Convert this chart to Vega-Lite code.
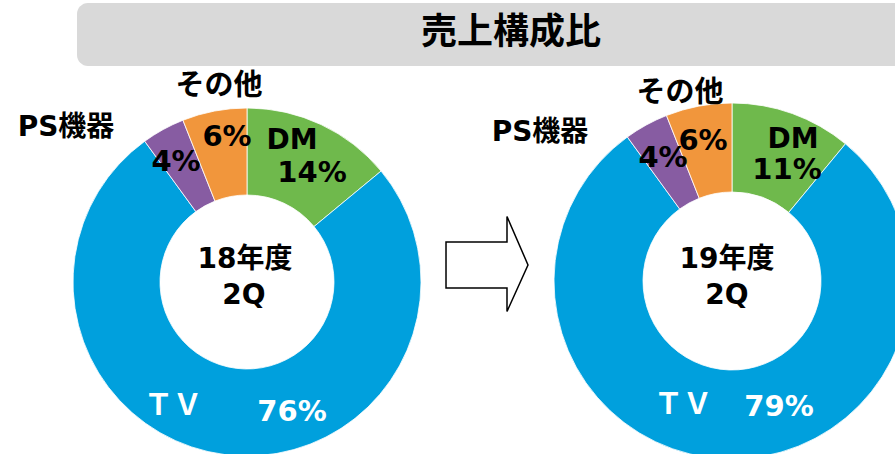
{
  "$schema": "https://vega.github.io/schema/vega-lite/v6.json",
  "width": 895,
  "height": 454,
  "padding": 0,
  "autosize": "none",
  "background": "#ffffff",
  "config": {"view": {"stroke": null}},
  "datasets": {
    "seg": [
      {"period": "18年度", "cat": "DM", "value": 14, "order": 1},
      {"period": "18年度", "cat": "TV", "value": 76, "order": 2},
      {"period": "18年度", "cat": "PS機器", "value": 4, "order": 3},
      {"period": "18年度", "cat": "その他", "value": 6, "order": 4},
      {"period": "19年度", "cat": "DM", "value": 11, "order": 1},
      {"period": "19年度", "cat": "TV", "value": 79, "order": 2},
      {"period": "19年度", "cat": "PS機器", "value": 4, "order": 3},
      {"period": "19年度", "cat": "その他", "value": 6, "order": 4}
    ]
  },
  "layer": [
    {
      "data": {"values": [{"item": "banner"}]},
      "mark": {"type": "rect", "fill": "#d9d9d9", "cornerRadius": 11},
      "encoding": {
        "x": {"datum": 77, "type": "quantitative", "scale": {"domain": [0, 895], "nice": false, "zero": false}, "axis": null},
        "x2": {"datum": 930},
        "y": {"datum": 3, "type": "quantitative", "scale": {"domain": [0, 454], "nice": false, "zero": false, "reverse": true}, "axis": null},
        "y2": {"datum": 66}
      }
    },
    {
      "data": {"values": [{"label": "売上構成比"}]},
      "mark": {"type": "text", "font": "Noto Sans CJK JP", "fontWeight": "bold", "fontSize": 36, "color": "#000000", "align": "center", "baseline": "middle"},
      "encoding": {
        "x": {"datum": 511, "type": "quantitative", "scale": {"domain": [0, 895], "nice": false, "zero": false}},
        "y": {"datum": 33, "type": "quantitative", "scale": {"domain": [0, 454], "nice": false, "zero": false, "reverse": true}},
        "text": {"field": "label"}
      }
    },
    {
      "data": {"name": "seg"},
      "transform": [{"filter": "datum.period === '18年度'"}],
      "mark": {"type": "arc", "radius": 174, "innerRadius": 87, "stroke": "#ffffff", "strokeWidth": 0.8},
      "encoding": {
        "x": {"datum": 247, "type": "quantitative", "scale": {"domain": [0, 895], "nice": false, "zero": false}},
        "y": {"datum": 282, "type": "quantitative", "scale": {"domain": [0, 454], "nice": false, "zero": false, "reverse": true}},
        "theta": {"field": "value", "type": "quantitative", "stack": true, "scale": {"domain": [0, 100]}},
        "order": {"field": "order", "type": "quantitative"},
        "color": {"field": "cat", "type": "nominal", "legend": null, "scale": {"domain": ["DM", "TV", "PS機器", "その他"], "range": ["#6fb94c", "#00a0dd", "#875ca2", "#f1963c"]}}
      }
    },
    {
      "data": {"name": "seg"},
      "transform": [{"filter": "datum.period === '19年度'"}],
      "mark": {"type": "arc", "radius": 178, "innerRadius": 89, "stroke": "#ffffff", "strokeWidth": 0.8},
      "encoding": {
        "x": {"datum": 732, "type": "quantitative", "scale": {"domain": [0, 895], "nice": false, "zero": false}},
        "y": {"datum": 281, "type": "quantitative", "scale": {"domain": [0, 454], "nice": false, "zero": false, "reverse": true}},
        "theta": {"field": "value", "type": "quantitative", "stack": true, "scale": {"domain": [0, 100]}},
        "order": {"field": "order", "type": "quantitative"},
        "color": {"field": "cat", "type": "nominal", "legend": null, "scale": {"domain": ["DM", "TV", "PS機器", "その他"], "range": ["#6fb94c", "#00a0dd", "#875ca2", "#f1963c"]}}
      }
    },
    {
      "data": {"values": [{"item": "arrow"}]},
      "mark": {"type": "point", "shape": "M-0.863,-0.463 L0.421,-0.463 L0.421,-1 L0.863,0.02 L0.421,1 L0.421,0.505 L-0.863,0.505 Z", "size": 9025, "filled": true, "fill": "#ffffff", "stroke": "#000000", "strokeWidth": 1.5, "opacity": 1},
      "encoding": {
        "x": {"datum": 487, "type": "quantitative", "scale": {"domain": [0, 895], "nice": false, "zero": false}},
        "y": {"datum": 264, "type": "quantitative", "scale": {"domain": [0, 454], "nice": false, "zero": false, "reverse": true}}
      }
    },
    {
      "data": {"values": [{"label": "その他"}]},
      "mark": {"type": "text", "font": "Noto Sans CJK JP", "fontWeight": "bold", "fontSize": 29, "color": "#000000", "align": "center", "baseline": "middle"},
      "encoding": {
        "x": {"datum": 219, "type": "quantitative", "scale": {"domain": [0, 895], "nice": false, "zero": false}},
        "y": {"datum": 86, "type": "quantitative", "scale": {"domain": [0, 454], "nice": false, "zero": false, "reverse": true}},
        "text": {"field": "label"}
      }
    },
    {
      "data": {"values": [{"label": "PS機器"}]},
      "mark": {"type": "text", "font": "DejaVu Sans, Noto Sans CJK JP", "fontWeight": "bold", "fontSize": 28, "color": "#000000", "align": "center", "baseline": "middle"},
      "encoding": {
        "x": {"datum": 66, "type": "quantitative", "scale": {"domain": [0, 895], "nice": false, "zero": false}},
        "y": {"datum": 128, "type": "quantitative", "scale": {"domain": [0, 454], "nice": false, "zero": false, "reverse": true}},
        "text": {"field": "label"}
      }
    },
    {
      "data": {"values": [{"label": "6%"}]},
      "mark": {"type": "text", "font": "DejaVu Sans", "fontWeight": "bold", "fontSize": 29, "color": "#000000", "align": "center", "baseline": "middle"},
      "encoding": {
        "x": {"datum": 227, "type": "quantitative", "scale": {"domain": [0, 895], "nice": false, "zero": false}},
        "y": {"datum": 137, "type": "quantitative", "scale": {"domain": [0, 454], "nice": false, "zero": false, "reverse": true}},
        "text": {"field": "label"}
      }
    },
    {
      "data": {"values": [{"label": "4%"}]},
      "mark": {"type": "text", "font": "DejaVu Sans", "fontWeight": "bold", "fontSize": 29, "color": "#000000", "align": "center", "baseline": "middle"},
      "encoding": {
        "x": {"datum": 176, "type": "quantitative", "scale": {"domain": [0, 895], "nice": false, "zero": false}},
        "y": {"datum": 162, "type": "quantitative", "scale": {"domain": [0, 454], "nice": false, "zero": false, "reverse": true}},
        "text": {"field": "label"}
      }
    },
    {
      "data": {"values": [{"label": "DM"}]},
      "mark": {"type": "text", "font": "DejaVu Sans", "fontWeight": "bold", "fontSize": 28, "color": "#000000", "align": "center", "baseline": "middle"},
      "encoding": {
        "x": {"datum": 292, "type": "quantitative", "scale": {"domain": [0, 895], "nice": false, "zero": false}},
        "y": {"datum": 141, "type": "quantitative", "scale": {"domain": [0, 454], "nice": false, "zero": false, "reverse": true}},
        "text": {"field": "label"}
      }
    },
    {
      "data": {"values": [{"label": "14%"}]},
      "mark": {"type": "text", "font": "DejaVu Sans", "fontWeight": "bold", "fontSize": 29, "color": "#000000", "align": "center", "baseline": "middle"},
      "encoding": {
        "x": {"datum": 312, "type": "quantitative", "scale": {"domain": [0, 895], "nice": false, "zero": false}},
        "y": {"datum": 173, "type": "quantitative", "scale": {"domain": [0, 454], "nice": false, "zero": false, "reverse": true}},
        "text": {"field": "label"}
      }
    },
    {
      "data": {"values": [{"label": "18年度"}]},
      "mark": {"type": "text", "font": "DejaVu Sans, Noto Sans CJK JP", "fontWeight": "bold", "fontSize": 28, "color": "#000000", "align": "center", "baseline": "middle"},
      "encoding": {
        "x": {"datum": 245, "type": "quantitative", "scale": {"domain": [0, 895], "nice": false, "zero": false}},
        "y": {"datum": 260, "type": "quantitative", "scale": {"domain": [0, 454], "nice": false, "zero": false, "reverse": true}},
        "text": {"field": "label"}
      }
    },
    {
      "data": {"values": [{"label": "2Q"}]},
      "mark": {"type": "text", "font": "DejaVu Sans", "fontWeight": "bold", "fontSize": 28, "color": "#000000", "align": "center", "baseline": "middle"},
      "encoding": {
        "x": {"datum": 244, "type": "quantitative", "scale": {"domain": [0, 895], "nice": false, "zero": false}},
        "y": {"datum": 296, "type": "quantitative", "scale": {"domain": [0, 454], "nice": false, "zero": false, "reverse": true}},
        "text": {"field": "label"}
      }
    },
    {
      "data": {"values": [{"label": "ＴＶ"}]},
      "mark": {"type": "text", "font": "Noto Sans CJK JP", "fontWeight": "bold", "fontSize": 29, "color": "#ffffff", "align": "center", "baseline": "middle"},
      "encoding": {
        "x": {"datum": 173, "type": "quantitative", "scale": {"domain": [0, 895], "nice": false, "zero": false}},
        "y": {"datum": 406, "type": "quantitative", "scale": {"domain": [0, 454], "nice": false, "zero": false, "reverse": true}},
        "text": {"field": "label"}
      }
    },
    {
      "data": {"values": [{"label": "76%"}]},
      "mark": {"type": "text", "font": "DejaVu Sans", "fontWeight": "bold", "fontSize": 29, "color": "#ffffff", "align": "center", "baseline": "middle"},
      "encoding": {
        "x": {"datum": 292, "type": "quantitative", "scale": {"domain": [0, 895], "nice": false, "zero": false}},
        "y": {"datum": 412, "type": "quantitative", "scale": {"domain": [0, 454], "nice": false, "zero": false, "reverse": true}},
        "text": {"field": "label"}
      }
    },
    {
      "data": {"values": [{"label": "その他"}]},
      "mark": {"type": "text", "font": "Noto Sans CJK JP", "fontWeight": "bold", "fontSize": 29, "color": "#000000", "align": "center", "baseline": "middle"},
      "encoding": {
        "x": {"datum": 680, "type": "quantitative", "scale": {"domain": [0, 895], "nice": false, "zero": false}},
        "y": {"datum": 93, "type": "quantitative", "scale": {"domain": [0, 454], "nice": false, "zero": false, "reverse": true}},
        "text": {"field": "label"}
      }
    },
    {
      "data": {"values": [{"label": "PS機器"}]},
      "mark": {"type": "text", "font": "DejaVu Sans, Noto Sans CJK JP", "fontWeight": "bold", "fontSize": 28, "color": "#000000", "align": "center", "baseline": "middle"},
      "encoding": {
        "x": {"datum": 540, "type": "quantitative", "scale": {"domain": [0, 895], "nice": false, "zero": false}},
        "y": {"datum": 133, "type": "quantitative", "scale": {"domain": [0, 454], "nice": false, "zero": false, "reverse": true}},
        "text": {"field": "label"}
      }
    },
    {
      "data": {"values": [{"label": "4%"}]},
      "mark": {"type": "text", "font": "DejaVu Sans", "fontWeight": "bold", "fontSize": 29, "color": "#000000", "align": "center", "baseline": "middle"},
      "encoding": {
        "x": {"datum": 663, "type": "quantitative", "scale": {"domain": [0, 895], "nice": false, "zero": false}},
        "y": {"datum": 158, "type": "quantitative", "scale": {"domain": [0, 454], "nice": false, "zero": false, "reverse": true}},
        "text": {"field": "label"}
      }
    },
    {
      "data": {"values": [{"label": "6%"}]},
      "mark": {"type": "text", "font": "DejaVu Sans", "fontWeight": "bold", "fontSize": 29, "color": "#000000", "align": "center", "baseline": "middle"},
      "encoding": {
        "x": {"datum": 703, "type": "quantitative", "scale": {"domain": [0, 895], "nice": false, "zero": false}},
        "y": {"datum": 141, "type": "quantitative", "scale": {"domain": [0, 454], "nice": false, "zero": false, "reverse": true}},
        "text": {"field": "label"}
      }
    },
    {
      "data": {"values": [{"label": "DM"}]},
      "mark": {"type": "text", "font": "DejaVu Sans", "fontWeight": "bold", "fontSize": 28, "color": "#000000", "align": "center", "baseline": "middle"},
      "encoding": {
        "x": {"datum": 793, "type": "quantitative", "scale": {"domain": [0, 895], "nice": false, "zero": false}},
        "y": {"datum": 140, "type": "quantitative", "scale": {"domain": [0, 454], "nice": false, "zero": false, "reverse": true}},
        "text": {"field": "label"}
      }
    },
    {
      "data": {"values": [{"label": "11%"}]},
      "mark": {"type": "text", "font": "DejaVu Sans", "fontWeight": "bold", "fontSize": 29, "color": "#000000", "align": "center", "baseline": "middle"},
      "encoding": {
        "x": {"datum": 787, "type": "quantitative", "scale": {"domain": [0, 895], "nice": false, "zero": false}},
        "y": {"datum": 170, "type": "quantitative", "scale": {"domain": [0, 454], "nice": false, "zero": false, "reverse": true}},
        "text": {"field": "label"}
      }
    },
    {
      "data": {"values": [{"label": "19年度"}]},
      "mark": {"type": "text", "font": "DejaVu Sans, Noto Sans CJK JP", "fontWeight": "bold", "fontSize": 28, "color": "#000000", "align": "center", "baseline": "middle"},
      "encoding": {
        "x": {"datum": 727, "type": "quantitative", "scale": {"domain": [0, 895], "nice": false, "zero": false}},
        "y": {"datum": 260, "type": "quantitative", "scale": {"domain": [0, 454], "nice": false, "zero": false, "reverse": true}},
        "text": {"field": "label"}
      }
    },
    {
      "data": {"values": [{"label": "2Q"}]},
      "mark": {"type": "text", "font": "DejaVu Sans", "fontWeight": "bold", "fontSize": 28, "color": "#000000", "align": "center", "baseline": "middle"},
      "encoding": {
        "x": {"datum": 727, "type": "quantitative", "scale": {"domain": [0, 895], "nice": false, "zero": false}},
        "y": {"datum": 296, "type": "quantitative", "scale": {"domain": [0, 454], "nice": false, "zero": false, "reverse": true}},
        "text": {"field": "label"}
      }
    },
    {
      "data": {"values": [{"label": "ＴＶ"}]},
      "mark": {"type": "text", "font": "Noto Sans CJK JP", "fontWeight": "bold", "fontSize": 29, "color": "#ffffff", "align": "center", "baseline": "middle"},
      "encoding": {
        "x": {"datum": 683, "type": "quantitative", "scale": {"domain": [0, 895], "nice": false, "zero": false}},
        "y": {"datum": 405, "type": "quantitative", "scale": {"domain": [0, 454], "nice": false, "zero": false, "reverse": true}},
        "text": {"field": "label"}
      }
    },
    {
      "data": {"values": [{"label": "79%"}]},
      "mark": {"type": "text", "font": "DejaVu Sans", "fontWeight": "bold", "fontSize": 29, "color": "#ffffff", "align": "center", "baseline": "middle"},
      "encoding": {
        "x": {"datum": 779, "type": "quantitative", "scale": {"domain": [0, 895], "nice": false, "zero": false}},
        "y": {"datum": 407, "type": "quantitative", "scale": {"domain": [0, 454], "nice": false, "zero": false, "reverse": true}},
        "text": {"field": "label"}
      }
    }
  ]
}
